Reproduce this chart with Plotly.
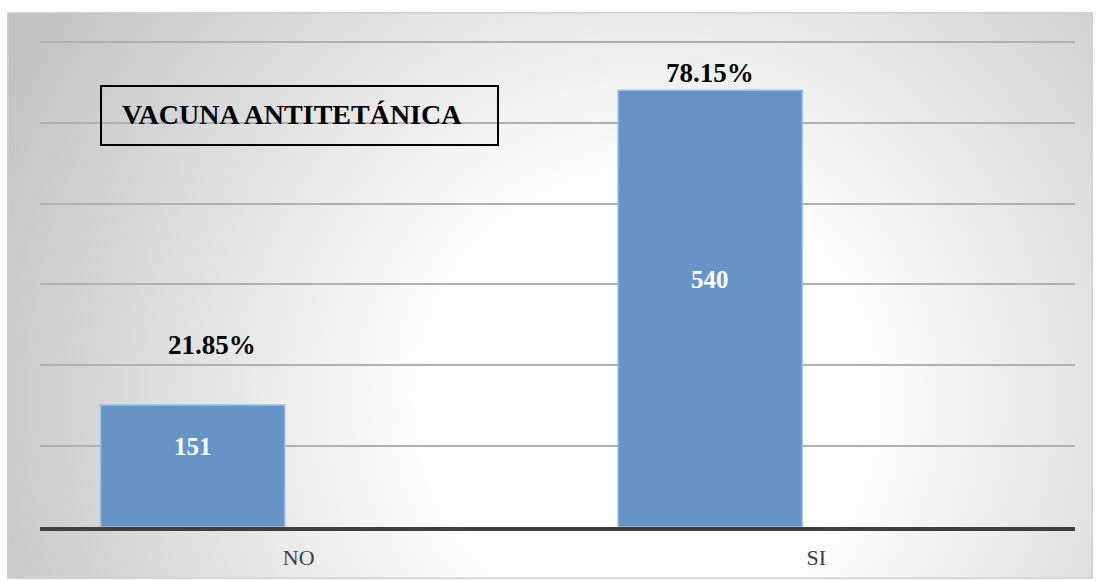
import base64
import plotly.graph_objects as go

categories = ["NO", "SI"]
counts = [151, 540]
title_text = "VACUNA ANTITETÁNICA"

total = sum(counts)
percents = [f"{c / total * 100:.2f}%" for c in counts]

# style
bar_width = 0.356
bar_offset = -0.383
count_shift = [19, 29]
pct_shift = [60, 17]
pct_xshift = [19, 0]
serif = "Liberation Serif"

# radial gradient background (chart area)
svg = """<svg xmlns='http://www.w3.org/2000/svg' width='1086' height='567'>
<defs><radialGradient id='g' gradientUnits='userSpaceOnUse' cx='640' cy='390' r='720'>
<stop offset='0' stop-color='#ffffff'/><stop offset='0.3' stop-color='#ffffff'/>
<stop offset='1' stop-color='#c2c2c2'/></radialGradient></defs>
<rect width='1086' height='567' fill='url(#g)' stroke='#d0d0d0' stroke-width='3'/></svg>"""
src = "data:image/svg+xml;base64," + base64.b64encode(svg.encode()).decode()

W, H = 1098, 581
ml, mr, mt, mb = 40, 23, 39, 54
pw, ph = W - ml - mr, H - mt - mb

fig = go.Figure()
fig.add_trace(go.Bar(
    x=categories, y=counts,
    width=bar_width, offset=bar_offset,
    marker=dict(color="rgb(103,148,199)", line=dict(color="rgb(160,190,225)", width=1.5)),
    hoverinfo="skip",
))

annotations = []
for i, (c, p) in enumerate(zip(counts, percents)):
    xc = i + bar_offset + bar_width / 2
    annotations.append(dict(
        x=xc, y=c / 2, xref="x", yref="y", text=f"<b>{c}</b>", showarrow=False,
        yshift=count_shift[i], font=dict(family=serif, size=25, color="white")))
    annotations.append(dict(
        x=xc, y=c, xref="x", yref="y", text=f"<b>{p}</b>", showarrow=False,
        yshift=pct_shift[i], xshift=pct_xshift[i],
        font=dict(family=serif, size=27, color="black")))

annotations.append(dict(
    x=(120 - ml) / pw, y=(H - mb - 115) / ph, xref="paper", yref="paper",
    xanchor="left", yanchor="middle", text=f"<b>{title_text}</b>", showarrow=False,
    font=dict(family=serif, size=28, color="black")))

fig.update_layout(
    width=W, height=H,
    margin=dict(l=ml, r=mr, t=mt, b=mb),
    paper_bgcolor="white", plot_bgcolor="rgba(0,0,0,0)",
    showlegend=False,
    annotations=annotations,
    images=[dict(
        source=src, xref="paper", yref="paper",
        x=(7 - ml) / pw, y=(H - mb - 12) / ph,
        sizex=1086 / pw, sizey=567 / ph,
        xanchor="left", yanchor="top", sizing="stretch", layer="below")],
    shapes=[dict(
        type="rect", xref="paper", yref="paper",
        x0=(101 - ml) / pw, x1=(498 - ml) / pw,
        y0=(H - mb - 145) / ph, y1=(H - mb - 86) / ph,
        line=dict(color="black", width=2), fillcolor="rgba(0,0,0,0)")],
    xaxis=dict(
        showline=True, linecolor="#404040", linewidth=4,
        ticks="outside", ticklen=8, tickcolor="rgba(0,0,0,0)",
        tickfont=dict(family=serif, size=22, color="#404040"),
        showgrid=False, fixedrange=True),
    yaxis=dict(
        range=[0, 603.5], tick0=0, dtick=100, showticklabels=False,
        showgrid=True, gridcolor="#b0b0b0", gridwidth=1.5,
        zeroline=False, fixedrange=True),
)

fig.write_html(
    "out.html",
    config={"displayModeBar": False},
    post_script="document.body.style.margin='0';document.body.style.overflow='hidden';",
)
